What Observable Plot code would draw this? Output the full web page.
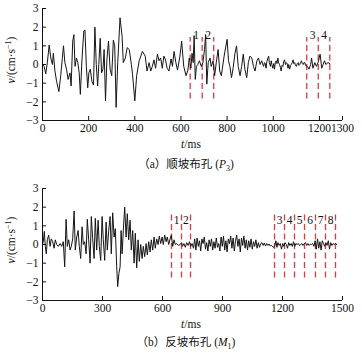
<!DOCTYPE html>
<html><head><meta charset="utf-8">
<script src="https://cdn.jsdelivr.net/npm/d3@7"></script>
<script src="https://cdn.jsdelivr.net/npm/@observablehq/plot@0.6"></script>
<style>
body{margin:0;background:#fff;width:362px;overflow:hidden;}
.cap{font-family:"Liberation Serif","Times New Roman","Noto Sans CJK SC",serif;font-size:11.5px;text-align:center;color:#111;padding-left:10px;box-sizing:border-box;width:362px;}
.cap i{font-style:italic}
svg{display:block}
</style></head><body>
<div id="pa"></div>
<div class="cap" style="height:30px;line-height:28px;">（a）顺坡布孔 (<i>P</i><sub style="font-size:8px">3</sub>)</div>
<div id="pb"></div>
<div class="cap" style="height:26px;line-height:24px;">（b）反坡布孔 (<i>M</i><sub style="font-size:8px">1</sub>)</div>
<script>
// ---- Panel (a) data ----
const topT = [0,7,14,21,29,36,43,47,54,61,71,79,86,91,97,104,111,119,124,131,136,141,147,153,159,164,171,179,184,190,196,201,207,214,221,227,233,239,244,250,256,262,267,273,279,286,293,300,307,313,319,326,336,345,350,359,367,376,385,390,400,408,419,433,445,453,462,469,476,483,490,498,505,512,519,526,533,540,548,557,563,570,578,585,595,603,612,622,630,636,643,648,653,657,662,667,673,680,688,695,702,707,712,718,726,731,739,746,753,761,768,775,787,800,806,812,819,826,834,841,848,856,863,870,877,885,892,899,907,914,921,929,936,943,950,958,962,965,969,972,977,980,983,988,991,994,998,1002,1005,1009,1013,1016,1020,1023,1027,1031,1034,1038,1042,1045,1049,1053,1057,1060,1064,1067,1071,1075,1078,1082,1086,1089,1093,1096,1100,1104,1108,1111,1115,1118,1122,1126,1130,1133,1137,1140,1148,1155,1162,1166,1172,1180,1187,1194,1199,1203,1210,1216,1222,1228,1237,1245];
const topV = [0,-0.1,-0.5,0.1,1.05,0.35,0,0.6,-0.35,-0.9,-1.45,-0.6,0.35,1.0,0.1,-0.25,-0.8,-0.45,-1.15,1.25,1.6,-0.1,0.35,0.1,-0.45,-1.6,0.25,1.8,1.85,-0.1,-1.25,-0.45,-0.25,-0.9,-1.1,2.0,0,-1.15,0,1.4,-0.45,-0.25,0.8,-1.95,0.25,1.25,-0.25,-0.6,1.3,1.0,-2.3,0.1,2.5,1.5,0.1,0.35,0.9,0.8,0,-0.5,-1.95,-0.6,0.2,0.7,0.45,-0.35,0.1,-0.35,-0.1,0.25,-0.2,0.55,0.2,0.35,-0.2,0.45,0.25,-0.2,-0.35,0.3,-0.1,0.7,0.1,-0.3,0.4,1.25,-0.1,-0.6,-0.3,0.35,-0.2,0.6,0.1,1.55,-0.8,-0.1,0,0.2,-0.1,0.1,0.8,1.6,-1.05,0.1,0.35,-0.1,0.2,-0.6,0.1,0.8,-0.35,-0.6,0.45,1.35,0.2,-0.1,-0.7,-0.2,0.6,1.0,-0.1,-0.6,-0.1,0.55,-0.25,-0.7,0.1,0.45,0.35,-0.1,-0.35,0.2,0.35,0,0.2,-0.1,0.1,0.05,-0.2,0.15,0.35,0.45,0.1,-0.1,0.2,0,-0.2,0.05,-0.25,0.1,0.2,0.05,0.35,0.1,0,-0.15,-0.35,-0.05,-0.1,0.15,0.25,0,0.1,0.05,-0.2,0,-0.25,-0.05,0,0.1,0.25,0.05,0.1,-0.05,-0.1,0.05,0.1,-0.05,0,0.1,0.2,0.05,0,0.1,0.1,-0.05,-0.1,-0.25,0,0.35,-0.2,0.1,-0.1,0.1,0.35,0.55,-0.2,0,0.2,0,0.1,0.05,0.05];
const topXTicks = [0,200,400,600,800,1000,1200,1300];
const topLines = [640,692,742,1145,1195,1245];
const topLabelX = [666,718,1170,1220];
const topLabelText = ["1","2","3","4"];

// ---- Panel (b) data ----
const botT = [0,4,9,14,19,24,31,38,44,51,58,64,71,79,88,96,104,111,118,124,131,138,144,151,158,164,171,178,184,191,198,204,211,218,224,231,238,244,251,258,264,271,278,284,291,298,304,311,318,324,331,338,344,351,358,364,371,376,382,388,393,398,404,411,418,424,431,438,444,451,458,464,471,478,484,491,498,504,511,518,524,531,538,544,551,558,564,571,578,584,591,598,604,611,618,624,631,638,644,651,658,664,671,680,688,695,700,707,714,721,728,735,741,748,755,761,767,773,779,785,791,797,803,809,815,821,827,833,839,845,851,857,863,869,875,881,887,893,899,905,911,917,923,929,935,941,947,953,959,965,971,977,983,989,995,1001,1007,1013,1019,1025,1031,1037,1043,1049,1055,1061,1067,1073,1079,1085,1091,1097,1103,1109,1115,1121,1127,1133,1139,1145,1151,1157,1162,1167,1172,1177,1183,1189,1195,1201,1207,1213,1219,1225,1231,1237,1243,1249,1255,1261,1267,1273,1279,1285,1291,1297,1303,1309,1315,1321,1327,1333,1339,1345,1351,1357,1363,1369,1375,1381,1387,1393,1399,1405,1411,1417,1423,1429,1435,1441,1447,1453,1459,1465,1471];
const botV = [0,0.15,0.7,-0.1,-0.5,0.25,0.5,-0.1,0.3,0.15,-0.2,0.25,0,-0.1,0.05,-0.1,0.15,-1.2,1.35,-0.1,0.25,-0.3,-0.1,0.3,1.8,-0.3,0.4,0.75,-0.1,-0.75,0.95,0,0.15,-0.5,1.35,0.25,-1.0,1.5,0.3,-0.75,1.4,-0.3,1.3,-0.1,-0.85,1.5,0.25,-0.85,1.2,-0.3,0.75,1.5,-0.5,1.7,0.4,0.85,-1.2,-2.25,-1.55,-1.2,0.75,-0.5,0.75,2.0,0.4,1.65,0.25,1.3,-0.3,0.75,-1.0,0.6,-1.25,0.25,-0.9,0,-0.75,-0.1,-0.65,0.05,-0.55,0.15,-0.4,0.25,-0.3,0.4,-0.2,0.3,0,0.45,0.05,0.4,0,0.5,0.15,0.4,0,0.3,0.5,-0.1,0.25,0,0.05,-0.05,0,0.1,-0.1,0.05,-0.15,0.1,-0.05,0.15,-0.1,0.05,-0.2,0.3,-0.3,0.35,-0.1,0.2,-0.35,0.3,0.05,0.4,-0.25,0.1,-0.35,0.25,-0.1,0.3,-0.3,0.15,-0.2,0.35,-0.15,0.05,-0.35,0.4,-0.1,0.45,-0.3,0.2,-0.4,0.3,0.05,0.45,-0.2,0.35,-0.35,0.2,0.5,-0.1,0.3,-0.4,0.35,-0.05,0.45,-0.2,0.25,-0.3,0.2,-0.15,0.3,-0.25,0.15,-0.1,0.25,-0.2,0.1,-0.15,0.05,0.1,-0.05,0.08,-0.08,0.05,-0.05,0.03,-0.08,-0.05,-0.12,-0.15,-0.05,0.2,-0.15,0.1,-0.05,0.05,-0.25,0.05,-0.1,0.1,0,-0.2,0.1,-0.05,0.05,-0.1,0.15,-0.1,0.05,0,0.05,-0.05,0,0.05,-0.05,0.05,0.1,-0.05,0.05,-0.05,0.02,0,0.05,-0.1,0.2,-0.25,0.3,-0.2,0.15,-0.3,0.2,0.05,-0.1,0.1,-0.05,0.2,-0.25,0.1,-0.05,0.05,0,0.05,0];
const botXTicks = [0,300,600,900,1200,1500];
const botLines = [645,695,740,1160,1210,1260,1310,1365,1415,1465];
const botLabelX = [670,717,1185,1235,1285,1338,1390,1441];
const botLabelText = ["1","2","3","4","5","6","7","8"];

const yTicks = [-3,-2,-1,0,1,2,3];
const SERIF = "'Liberation Serif','Times New Roman','DejaVu Serif',serif";
const fmt = d => (d < 0 ? "\u2212" + (-d) : String(d));

function panel(T, V, xMax, xTicks, lines, lineY, labX, labText, labY) {
  const data = T.map((t, i) => ({t, v: V[i]}));
  const labels = labX.map((x, i) => ({x, s: labText[i]}));
  const svg = Plot.plot({
    width: 362, height: 150,
    marginLeft: 42, marginRight: 20, marginTop: 8, marginBottom: 30,
    x: {domain: [0, xMax]},
    y: {domain: [-3, 3]},
    style: {fontFamily: SERIF, fontSize: "11.5px", color: "#111", background: "#fff"},
    marks: [
      Plot.ruleX(lines, {x: d => d, y1: lineY[0], y2: lineY[1], stroke: "#e23a3f", strokeWidth: 1.3, strokeDasharray: "6,3.5"}),
      Plot.line(data, {x: "t", y: "v", stroke: "#151515", strokeWidth: 1}),
      Plot.text(labels, {x: "x", y: labY, text: "s", fontSize: 11.5, fill: "#111", fontFamily: SERIF}),
      Plot.axisX(xTicks, {tickSize: -4, tickPadding: 7, label: null, stroke: "#111", tickFormat: fmt, fontFamily: SERIF}),
      Plot.axisY(yTicks, {tickSize: -4, tickPadding: 8, label: null, stroke: "#111", tickFormat: fmt, fontFamily: SERIF}),
      Plot.ruleX([0], {stroke: "#111"}),
      Plot.ruleY([-3], {stroke: "#111"})
    ]
  });
  const s = d3.select(svg);
  const yl = s.append("text")
    .attr("transform", "translate(15,60) rotate(-90)")
    .attr("text-anchor", "middle")
    .attr("font-family", SERIF)
    .attr("font-size", 11.5)
    .attr("fill", "#111");
  yl.append("tspan").attr("font-style", "italic").text("v");
  yl.append("tspan").text("/(cm·s");
  yl.append("tspan").attr("font-size", 8).attr("dy", -4).text("\u22121");
  yl.append("tspan").attr("dy", 4).text(")");
  const xl = s.append("text")
    .attr("x", 191).attr("y", 148)
    .attr("text-anchor", "middle")
    .attr("font-family", SERIF)
    .attr("font-size", 11.5)
    .attr("fill", "#111");
  xl.append("tspan").attr("font-style", "italic").text("t");
  xl.append("tspan").text("/ms");
  return svg;
}

document.getElementById("pa").appendChild(
  panel(topT, topV, 1300, topXTicks, topLines, [-1.85, 1.45], topLabelX, topLabelText, 1.55));
document.getElementById("pb").appendChild(
  panel(botT, botV, 1500, botXTicks, botLines, [-1.8, 1.7], botLabelX, botLabelText, 1.3));
</script>
</body></html>
